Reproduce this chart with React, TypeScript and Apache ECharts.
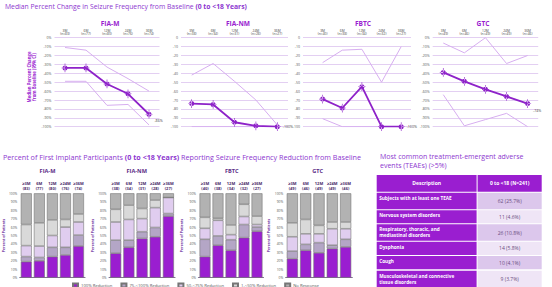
import React, { useEffect, useRef } from 'react';
import * as echarts from 'echarts';

// ---------- DATA ----------
const groups = ['FIA-M', 'FIA-NM', 'FBTC', 'GTC'];
const lineTimepoints = ['3M', '6M', '12M', '24M', '36M'];
const barTimepoints = ['≥3M', '6M', '12M', '≥24M', '≥36M'];

const nFIAM = [83, 77, 80, 76, 74];
const nFIANM = [38, 34, 31, 28, 27];
const nFBTC = [40, 38, 34, 32, 27];
const nGTC = [49, 46, 49, 49, 46];

// Median percent change and 95% CI bounds
const medFIAM = [-34, -34, -52, -63, -86];
const upFIAM = [-11, -14, -33, -46, -60];
const loFIAM = [-49, -49, -76, -75, -98];

const medFIANM = [-74, -75, -95, -99, -100];
const upFIANM = [-42, -29, -49, -70, -98];
const loFIANM = [-100, -100, -100, -100, -100];

const medFBTC = [-69, -79, -55, -100, -100];
const upFBTC = [-28, -14, -13, -50, -10];
const loFBTC = [-91, -100, -100, -100, -100];

const medGTC = [-39, -49, -58, -66, -74];
const upGTC = [-6, -17, 0, -29, -20];
const loGTC = [-64, -99, -92, -85, -100];

// Stacked bars (percent of participants), bottom to top
const reductionCats = ['100% Reduction', '75-<100% Reduction', '50-<75% Reduction', '1-<50% Reduction', 'No Response'];
const r100FIAM = [19, 20, 25, 27, 37.5];
const r75FIAM = [6, 4, 11, 9, 13];
const r50FIAM = [13, 13.5, 14, 24, 15.5];
const r1FIAM = [25, 27.5, 18.5, 9, 9.5];
const rNoFIAM = [37, 35, 31.5, 31, 24.5];

const r100FIANM = [29, 36, 46.5, 48.5, 73];
const r75FIANM = [15.5, 8.5, 8, 11, 3];
const r50FIANM = [21.5, 24.5, 15.5, 23.5, 19];
const r1FIANM = [15, 17, 12, 9, 0];
const rNoFIANM = [19, 14, 18, 8, 5];

const r100FBTC = [25, 38.5, 32.5, 47.5, 55];
const r75FBTC = [20.5, 11, 12.5, 15.5, 5];
const r50FBTC = [13, 18.5, 6, 9.5, 3];
const r1FBTC = [13, 2.5, 11.5, 14.5, 10];
const rNoFBTC = [28.5, 29.5, 37.5, 13, 27];

const r100GTC = [22.5, 32.5, 29.5, 34.5, 36.5];
const r75GTC = [9, 7, 12, 4, 9];
const r50GTC = [17, 12.5, 10.5, 19.5, 12.5];
const r1GTC = [16.5, 17, 10, 8, 8];
const rNoGTC = [35, 31, 38, 34, 34];

// TEAE table
const tableHeader = ['Description', '0 to <18 (N=241)'];
const teaeTerms = [
  'Subjects with at least one TEAE',
  'Nervous system disorders',
  'Respiratory, thoracic, and\nmediastinal disorders',
  'Dysphonia',
  'Cough',
  'Musculoskeletal and connective\ntissue disorders',
];
const teaeValues = ['62 (25.7%)', '11 (4.6%)', '26 (10.8%)', '14 (5.8%)', '10 (4.1%)', '9 (3.7%)'];

// ---------- assembled ----------
const nCounts = [nFIAM, nFIANM, nFBTC, nGTC];
const medians = [medFIAM, medFIANM, medFBTC, medGTC];
const uppers = [upFIAM, upFIANM, upFBTC, upGTC];
const lowers = [loFIAM, loFIANM, loFBTC, loGTC];
const barData = [
  [r100FIAM, r100FIANM, r100FBTC, r100GTC],
  [r75FIAM, r75FIANM, r75FBTC, r75GTC],
  [r50FIAM, r50FIANM, r50FBTC, r50GTC],
  [r1FIAM, r1FIANM, r1FBTC, r1GTC],
  [rNoFIAM, rNoFIANM, rNoFBTC, rNoGTC],
];

// ---------- STYLE / LAYOUT ----------
const FONT = 'Open Sans';
const PURPLE = '#9a1ed0';
const TITLE_PURPLE = '#8d36cf';
const barColors = ['#9a1ed0', '#b4a6c6', '#e0cdef', '#d9d9d9', '#b2b2b2'];

const lineLayouts = [
  { left: 54.5, width: 105, xmin: -0.5, pct: true, labelOffset: [0, 6], titleX: 110 },
  { left: 181, width: 107, xmin: -0.5, pct: false, labelOffset: [0, 0], titleX: 238 },
  { left: 303, width: 108, xmin: -1, pct: false, labelOffset: [0, 0], titleX: 363 },
  { left: 432.7, width: 105.5, xmin: -0.5, pct: true, labelOffset: [0, 7], titleX: 483 },
];
const barLayouts = [
  { left: 17.6, width: 67.4, titleX: 47.5 },
  { left: 109.1, width: 65.9, titleX: 136.7 },
  { left: 198.5, width: 65, titleX: 231.7 },
  { left: 285.7, width: 66.6, titleX: 317.7 },
];

const TBL = { x0: 376.7, x1: 476.6, x2: 477.6, x3: 541.7, headerTop: 175, headerH: 16.7 };
const rowTops = [192.7, 210.2, 224.3, 241.7, 256.0, 270.7];
const rowHeights = [16.5, 13.1, 16.4, 13.3, 13.3, 17];
const valueFills = ['#dcc7ec', '#efe5f6'];

const MARKER =
  'path://M-0.5,-7H0.5V7H-0.5Z M-5.5,-0.5H5.5V0.5H-5.5Z M-4,0A4,4 0 1,0 4,0A4,4 0 1,0 -4,0Z';

function buildOption(): any {
  const grid: any[] = [];
  const xAxis: any[] = [];
  const yAxis: any[] = [];
  const series: any[] = [];
  const graphic: any[] = [];

  // line charts
  lineLayouts.forEach((L, k) => {
    grid.push({ left: L.left, top: 37.7, width: L.width, height: 89 });
    xAxis.push({
      type: 'value',
      gridIndex: k,
      position: 'top',
      min: L.xmin,
      max: 4.5,
      interval: 0.5,
      axisLine: { show: false },
      axisTick: { show: false },
      splitLine: { show: false },
      axisLabel: {
        fontSize: 3.3,
        lineHeight: 3.8,
        color: '#444',
        margin: 2,
        fontFamily: FONT,
        formatter: (v: number) =>
          Number.isInteger(v) && v >= 0 && v < 5 ? `${lineTimepoints[v]}\n(n=${nCounts[k][v]})` : '',
      },
    });
    yAxis.push({
      type: 'value',
      gridIndex: k,
      min: -100,
      max: 0,
      interval: 10,
      axisLine: { show: false },
      axisTick: { show: false },
      splitLine: { lineStyle: { color: '#dcc3ef', width: 0.8 } },
      axisLabel: {
        fontSize: 3.5,
        color: '#555',
        margin: 3,
        fontFamily: FONT,
        formatter: (v: number) => (L.pct ? `${v}%` : `${v}`),
      },
    });
    const ciStyle = { color: '#d7aef0', width: 1 };
    series.push({
      type: 'line', xAxisIndex: k, yAxisIndex: k, silent: true, symbol: 'none', z: 2,
      data: uppers[k].map((v, i) => [i, v]), lineStyle: ciStyle,
    });
    series.push({
      type: 'line', xAxisIndex: k, yAxisIndex: k, silent: true, symbol: 'none', z: 2,
      data: lowers[k].map((v, i) => [i, v]), lineStyle: ciStyle,
    });
    series.push({
      type: 'line', xAxisIndex: k, yAxisIndex: k, silent: true, z: 5,
      data: medians[k].map((v, i) => [i, v]),
      symbol: MARKER,
      symbolSize: [6.9, 8.75],
      lineStyle: { color: '#8e22c9', width: 1.8 },
      itemStyle: { color: '#8e22c9' },
      label: {
        show: true,
        position: 'right',
        distance: 2,
        offset: L.labelOffset,
        fontSize: 3.6,
        color: '#444',
        fontFamily: FONT,
        formatter: (p: any) => (p.dataIndex === 4 ? `${p.value[1]}%` : ''),
      },
    });
    graphic.push({
      type: 'text', x: L.titleX, y: 23.3,
      style: {
        text: groups[k], fill: PURPLE, fontSize: 6.6, fontWeight: 'bold', fontFamily: FONT,
        align: 'center', verticalAlign: 'middle', textAlign: 'center', textVerticalAlign: 'middle',
      },
    });
  });

  graphic.push({
    type: 'text', x: 31, y: 77, rotation: Math.PI / 2,
    style: {
      text: 'Median Percent Change\nfrom Baseline (95% CI)',
      fill: PURPLE, fontSize: 4.3, lineHeight: 5, fontWeight: 'bold', fontFamily: FONT,
      align: 'center', verticalAlign: 'middle', textAlign: 'center', textVerticalAlign: 'middle',
    },
  });

  // bar charts
  barLayouts.forEach((B, k) => {
    const gi = 4 + k;
    grid.push({ left: B.left, top: 193.3, width: B.width, height: 84.4 });
    xAxis.push({
      type: 'category',
      gridIndex: gi,
      position: 'top',
      data: barTimepoints,
      axisLine: { show: false },
      axisTick: { show: false },
      axisLabel: {
        fontSize: 4,
        lineHeight: 4.4,
        color: '#4a2a6a',
        fontWeight: 'bold',
        margin: 3,
        fontFamily: FONT,
        interval: 0,
        formatter: (v: string, i: number) => `${v}\n(${nCounts[k][i]})`,
      },
    });
  });
  barLayouts.forEach((B, k) => {
    const gi = 4 + k;
    xAxis.push({
      type: 'category',
      gridIndex: gi,
      position: 'bottom',
      data: barTimepoints,
      axisLine: { show: true, lineStyle: { color: '#7f7190', width: 1.2 } },
      axisTick: { show: false },
      axisLabel: { show: false },
    });
  });
  barLayouts.forEach((B, k) => {
    const gi = 4 + k;
    yAxis.push({
      type: 'value',
      gridIndex: gi,
      min: 0,
      max: 100,
      interval: 10,
      axisLine: { show: false },
      axisTick: { show: false },
      splitLine: { show: false },
      axisLabel: { fontSize: 3.3, color: '#555', margin: 2.5, fontFamily: FONT, formatter: (v: number) => `${v}%` },
      name: 'Percent of Patients',
      nameLocation: 'middle',
      nameGap: 10.5,
      nameRotate: 90,
      nameTextStyle: { fontSize: 3.5, fontWeight: 'bold', color: '#6a2a9a', fontFamily: FONT },
    });
    graphic.push({
      type: 'text', x: B.titleX, y: 171,
      style: {
        text: groups[k], fill: '#5b2d86', fontSize: 5.6, fontWeight: 'bold', fontFamily: FONT,
        align: 'center', verticalAlign: 'middle', textAlign: 'center', textVerticalAlign: 'middle',
      },
    });
  });
  reductionCats.forEach((cat, ci) => {
    barLayouts.forEach((B, k) => {
      series.push({
        type: 'bar',
        name: cat,
        xAxisIndex: 4 + k,
        yAxisIndex: 4 + k,
        stack: 'grp' + k,
        barWidth: '84%',
        silent: true,
        data: barData[ci][k],
        itemStyle: { color: barColors[ci], borderColor: '#767676', borderWidth: 0.6 },
      });
    });
  });

  // main titles
  graphic.push({
    type: 'text', x: 5, y: 6.5,
    style: {
      text: 'Median Percent Change in Seizure Frequency from Baseline {b|(0 to <18 Years)}',
      fill: TITLE_PURPLE, fontSize: 6.8, fontFamily: FONT,
      align: 'left', verticalAlign: 'middle', textAlign: 'left', textVerticalAlign: 'middle',
      rich: { b: { fontSize: 6.8, fontWeight: 'bold', fill: TITLE_PURPLE, fontFamily: FONT } },
    },
  });
  graphic.push({
    type: 'text', x: 3, y: 156.7,
    style: {
      text: 'Percent of First Implant Participants {b|(0 to <18 Years)} Reporting Seizure Frequency Reduction from Baseline',
      fill: TITLE_PURPLE, fontSize: 7.2, fontFamily: FONT,
      align: 'left', verticalAlign: 'middle', textAlign: 'left', textVerticalAlign: 'middle',
      rich: { b: { fontSize: 7.2, fontWeight: 'bold', fill: TITLE_PURPLE, fontFamily: FONT } },
    },
  });
  graphic.push({
    type: 'text', x: 380, y: 161,
    style: {
      text: 'Most common treatment-emergent adverse\nevents (TEAEs) (>5%)',
      fill: TITLE_PURPLE, fontSize: 7, lineHeight: 8.5, fontFamily: FONT,
      align: 'left', verticalAlign: 'middle', textAlign: 'left', textVerticalAlign: 'middle',
    },
  });

  // table
  graphic.push({ type: 'rect', shape: { x: TBL.x0, y: TBL.headerTop, width: TBL.x1 - TBL.x0, height: TBL.headerH }, style: { fill: PURPLE } });
  graphic.push({ type: 'rect', shape: { x: TBL.x2, y: TBL.headerTop, width: TBL.x3 - TBL.x2, height: TBL.headerH }, style: { fill: PURPLE } });
  graphic.push({
    type: 'text', x: (TBL.x0 + TBL.x1) / 2, y: TBL.headerTop + TBL.headerH / 2,
    style: { text: tableHeader[0], fill: '#fff', fontSize: 5, fontWeight: 'bold', fontFamily: FONT, align: 'center', verticalAlign: 'middle', textAlign: 'center', textVerticalAlign: 'middle' },
  });
  graphic.push({
    type: 'text', x: (TBL.x2 + TBL.x3) / 2, y: TBL.headerTop + TBL.headerH / 2,
    style: { text: tableHeader[1], fill: '#fff', fontSize: 5, fontWeight: 'bold', fontFamily: FONT, align: 'center', verticalAlign: 'middle', textAlign: 'center', textVerticalAlign: 'middle' },
  });
  teaeTerms.forEach((term, r) => {
    const top = rowTops[r];
    const h = rowHeights[r];
    graphic.push({ type: 'rect', shape: { x: TBL.x0, y: top, width: TBL.x1 - TBL.x0, height: h }, style: { fill: PURPLE } });
    graphic.push({ type: 'rect', shape: { x: TBL.x2, y: top, width: TBL.x3 - TBL.x2, height: h }, style: { fill: valueFills[r % 2] } });
    graphic.push({
      type: 'text', x: TBL.x0 + 2.5, y: top + 2,
      style: { text: term, fill: '#fff', fontSize: 4.7, lineHeight: 6, fontWeight: 'bold', fontFamily: FONT, align: 'left', verticalAlign: 'top', textAlign: 'left', textVerticalAlign: 'top' },
    });
    graphic.push({
      type: 'text', x: (TBL.x2 + TBL.x3) / 2, y: top + h / 2,
      style: { text: teaeValues[r], fill: '#6a4c7e', fontSize: 5, fontFamily: FONT, align: 'center', verticalAlign: 'middle', textAlign: 'center', textVerticalAlign: 'middle' },
    });
  });

  return {
    animation: false,
    textStyle: { fontFamily: FONT },
    grid,
    xAxis,
    yAxis,
    series,
    graphic,
    legend: {
      data: reductionCats,
      left: 72,
      top: 282.5,
      itemWidth: 5,
      itemHeight: 4,
      itemGap: 8,
      icon: 'rect',
      padding: 0,
      selectedMode: false,
      textStyle: { fontSize: 4.2, color: '#555', fontFamily: FONT, padding: [0, 0, 0, -2] },
    },
  };
}

export default function App() {
  const ref = useRef<HTMLDivElement>(null);
  useEffect(() => {
    const chart = echarts.init(ref.current as HTMLDivElement, null, { renderer: 'svg' });
    chart.setOption(buildOption());
    return () => chart.dispose();
  }, []);
  return (
    <div
      ref={ref}
      style={{ position: 'absolute', left: 0, top: 0, width: 552, height: 287, background: '#fff' }}
    />
  );
}
